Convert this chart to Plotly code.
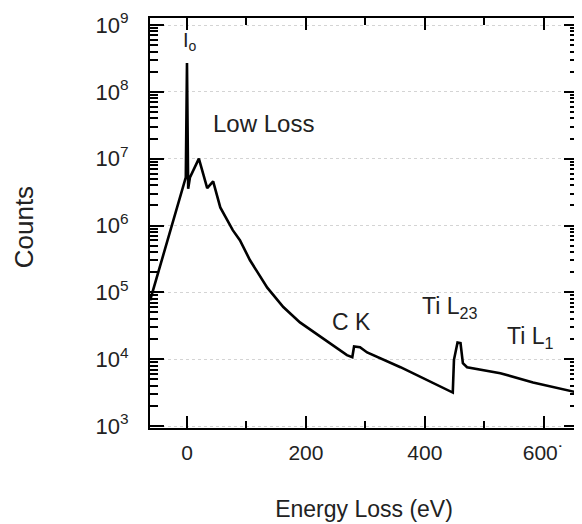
import plotly.graph_objects as go

# Spectrum trace (energy loss in eV, counts)
energy = [-62, -40, -7, -2, 0, 2, 5, 20, 34, 44, 56, 67, 77, 89, 106, 135, 162, 190,
          219, 246, 269, 278, 281, 291, 303, 359, 414, 443, 447, 449, 455, 460, 464,
          471, 527, 582, 662]
log_counts = [4.88, 5.56, 6.57, 6.72, 8.43, 6.55, 6.72, 7.00, 6.56, 6.66, 6.27, 6.08,
              5.93, 5.78, 5.48, 5.07, 4.78, 4.55, 4.37, 4.20, 4.06, 4.03, 4.19, 4.18,
              4.10, 3.88, 3.64, 3.52, 3.50, 3.99, 4.25, 4.24, 3.94, 3.88, 3.79, 3.65, 3.49]
counts = [10 ** v for v in log_counts]

x_ticks = [0, 200, 400, 600]
x_tick_text = ["0", "200", "400", "600˙"]
x_minor = [100, 300, 500]
y_exponents = [3, 4, 5, 6, 7, 8, 9]

y_ticks = [10 ** e for e in y_exponents]
y_tick_text = [f"10<sup>{e}</sup>" for e in y_exponents]
y_minor = [k * 10 ** e for e in y_exponents[:-1] for k in range(2, 10)]

FONT = "Liberation Sans, Arial, Helvetica, sans-serif"

fig = go.Figure()
fig.add_trace(go.Scatter(x=energy, y=counts, mode="lines",
                         line=dict(color="black", width=2.6), hoverinfo="skip",
                         showlegend=False))

fig.update_layout(
    width=574, height=516,
    margin=dict(l=142, r=4, t=10, b=96),
    paper_bgcolor="white", plot_bgcolor="white",
    font=dict(family=FONT, color="#222222", size=21),
    showlegend=False,
)

fig.update_xaxes(
    range=[-62.2, 657.6],
    tickvals=x_ticks, ticktext=x_tick_text,
    ticks="inside", ticklen=12, tickwidth=2, tickcolor="black",
    showline=True, linecolor="black", linewidth=2, mirror="allticks",
    showgrid=False, zeroline=False,
    tickfont=dict(size=21), ticklabelstandoff=5,
    minor=dict(tickvals=x_minor, ticks="inside", ticklen=7, tickwidth=1.5,
               tickcolor="black", showgrid=False),
    title=dict(text="Energy Loss (eV)", font=dict(size=23), standoff=38),
    automargin=False,
)

fig.update_yaxes(
    type="log", range=[2.97, 9.105],
    tickvals=y_ticks, ticktext=y_tick_text,
    ticks="inside", ticklen=14, tickwidth=2, tickcolor="black",
    showline=True, linecolor="black", linewidth=2, mirror="allticks",
    showgrid=True, gridcolor="#d4d4d4", griddash="dot", gridwidth=1,
    zeroline=False,
    tickfont=dict(size=22), ticklabelstandoff=15,
    minor=dict(tickvals=y_minor, ticks="inside", ticklen=8, tickwidth=1.5,
               tickcolor="black", showgrid=False),
    automargin=False,
)

annots = [
    dict(x=-10, y=8.75, text="I<sub>o</sub>", xanchor="left", size=20),
    dict(x=128, y=7.53, text="Low Loss", xanchor="center", size=24),
    dict(x=276, y=4.55, text="C K", xanchor="center", size=23),
    dict(x=392, y=4.78, text="Ti L<sub>23</sub>", xanchor="left", size=23),
    dict(x=534, y=4.33, text="Ti L<sub>1</sub>", xanchor="left", size=23),
]
for a in annots:
    fig.add_annotation(x=a["x"], y=a["y"], xref="x", yref="y", text=a["text"],
                       showarrow=False, xanchor=a["xanchor"], yanchor="middle",
                       font=dict(family=FONT, size=a["size"], color="#222222"))

fig.add_annotation(x=-0.294, y=0.49, xref="paper", yref="paper", text="Counts",
                   textangle=-90, showarrow=False, xanchor="center", yanchor="middle",
                   font=dict(family=FONT, size=26, color="#222222"))

fig.write_html("out.html")
